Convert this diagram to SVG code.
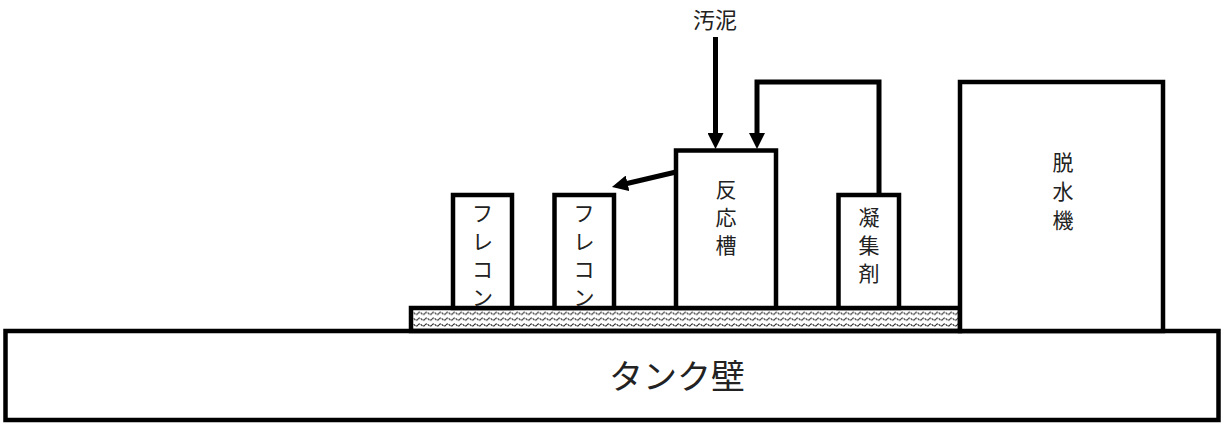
<svg xmlns="http://www.w3.org/2000/svg" width="1224" height="423" viewBox="0 0 1224 423">
  <style>
    .box { fill: #fff; stroke: #000; stroke-width: 4.5; }
    .conn { fill: none; stroke: #000; stroke-width: 5; stroke-linejoin: miter; }
    .lbl { font-family: "Noto Sans CJK JP", "Noto Sans", sans-serif; font-size: 21px; fill: #222; text-anchor: middle; dominant-baseline: central; }
    .big { font-size: 34px; }
  </style>
  <defs>
    <marker id="arr" markerUnits="userSpaceOnUse" markerWidth="16" markerHeight="16" refX="6" refY="8" orient="auto">
      <path d="M0,0 L16,8 L0,16 Z" fill="#000"/>
    </marker>
    <pattern id="wave" patternUnits="userSpaceOnUse" x="411" y="310.5" width="7" height="5.8">
      <path d="M0,2.9 Q1.75,0.9 3.5,2.9 T7,2.9" fill="none" stroke="#333" stroke-width="1.2" stroke-dasharray="2.2 0.8"/>
    </pattern>
  </defs>

  <g id="tank">
    <rect class="box" x="5.5" y="331" width="1213" height="89"/>
    <text class="lbl big" x="677" y="374">タンク壁</text>
  </g>

  <g id="platform">
    <rect x="411" y="308" width="549" height="23" fill="url(#wave)" stroke="#000" stroke-width="4.5"/>
  </g>

  <g id="flecon1">
    <rect class="box" x="453" y="195" width="59" height="113"/>
    <text class="lbl"><tspan x="482.5" y="212">フ</tspan><tspan x="482.5" y="240">レ</tspan><tspan x="482.5" y="268">コ</tspan><tspan x="482.5" y="296">ン</tspan></text>
  </g>

  <g id="flecon2">
    <rect class="box" x="554.5" y="195" width="59.5" height="113"/>
    <text class="lbl"><tspan x="584" y="212">フ</tspan><tspan x="584" y="240">レ</tspan><tspan x="584" y="268">コ</tspan><tspan x="584" y="296">ン</tspan></text>
  </g>

  <g id="reactor">
    <rect class="box" x="676" y="150.5" width="100" height="157.5"/>
    <text class="lbl"><tspan x="726" y="188">反</tspan><tspan x="726" y="216">応</tspan><tspan x="726" y="244">槽</tspan></text>
  </g>

  <g id="coagulant">
    <rect class="box" x="838.5" y="195" width="60.5" height="113"/>
    <text class="lbl"><tspan x="869" y="216">凝</tspan><tspan x="869" y="244">集</tspan><tspan x="869" y="272">剤</tspan></text>
  </g>

  <g id="dewaterer">
    <rect class="box" x="960" y="82" width="203" height="249"/>
    <text class="lbl"><tspan x="1063" y="161">脱</tspan><tspan x="1063" y="190">水</tspan><tspan x="1063" y="219">機</tspan></text>
  </g>

  <g id="sludge-label">
    <text class="lbl" x="715" y="18" style="font-size:22px">汚泥</text>
  </g>

  <g id="connectors">
    <path class="conn" d="M715.5,37 V139" marker-end="url(#arr)"/>
    <path class="conn" d="M879,195 V82 H757 V139" marker-end="url(#arr)"/>
    <path class="conn" d="M676,172 L621.7,184.7" marker-end="url(#arr)"/>
  </g>
</svg>
